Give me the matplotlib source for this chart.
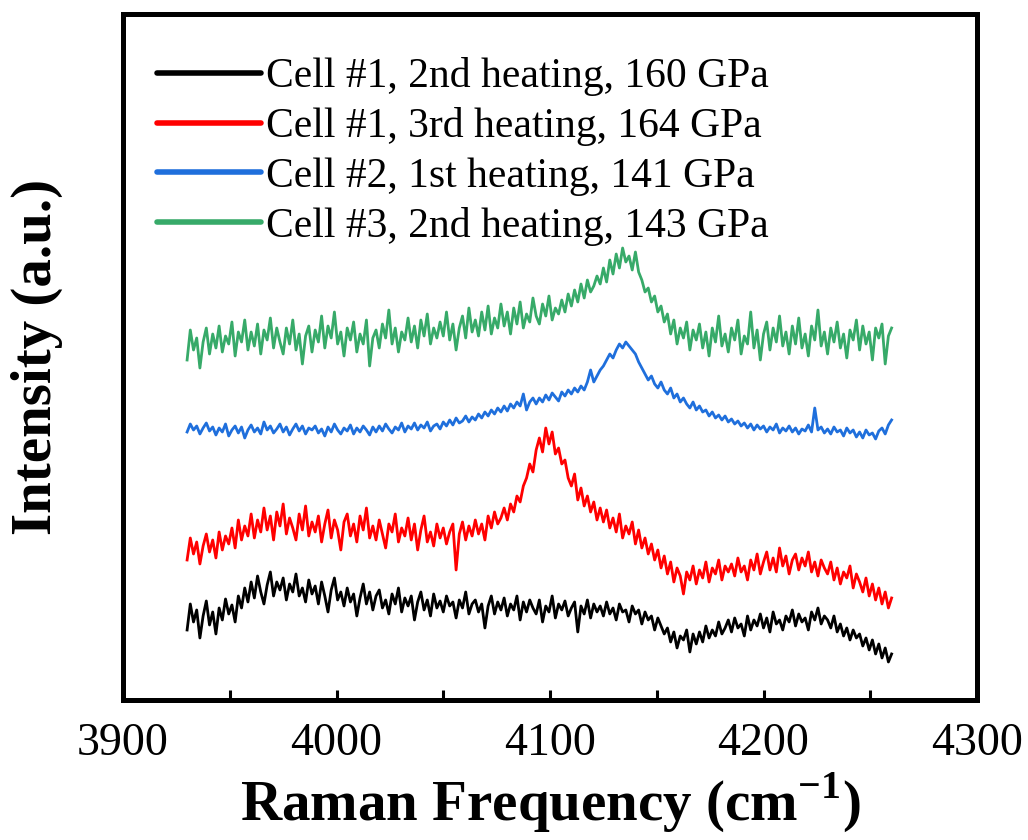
import numpy as np
import matplotlib
matplotlib.use("Agg")
import matplotlib.pyplot as plt
from matplotlib.lines import Line2D
from matplotlib.ticker import MultipleLocator

plt.rcParams['font.family'] = ['Liberation Serif', 'DejaVu Serif']
plt.rcParams['mathtext.fontset'] = 'custom'
plt.rcParams['mathtext.rm'] = 'Liberation Serif'
plt.rcParams['mathtext.bf'] = 'Liberation Serif:bold'

# Raman shift range of the spectra (cm^-1), one sample every 1.5 cm^-1
shift_start, shift_stop = 3930, 4260

# intensities (arbitrary units, traces already offset)
cell1_2nd = [70, 96, 78, 90, 62, 84, 99, 75, 88, 66,
             92, 80, 101, 86, 95, 78, 104, 92, 112, 98,
             118, 102, 124, 108, 96, 115, 128, 104, 118, 110,
             122, 100, 116, 108, 126, 104, 112, 98, 120, 106,
             114, 96, 118, 104, 88, 110, 122, 100, 108, 94,
             112, 98, 106, 84, 102, 116, 96, 108, 90, 104,
             110, 92, 100, 86, 106, 96, 112, 88, 102, 94,
             104, 80, 98, 108, 90, 100, 84, 106, 92, 99,
             88, 104, 94, 98, 82, 100, 92, 108, 86, 96,
             100, 88, 96, 72, 94, 104, 86, 98, 90, 102,
             84, 96, 90, 104, 80, 98, 88, 100, 92, 86,
             100, 78, 94, 88, 104, 82, 96, 90, 99, 84,
             92, 98, 68, 94, 86, 100, 82, 96, 88, 94,
             84, 98, 86, 92, 80, 96, 88, 90, 78, 94,
             86, 90, 76, 88, 80, 84, 70, 82, 74, 66,
             72, 58, 68, 52, 64, 60, 70, 48, 66, 56,
             68, 58, 74, 62, 70, 64, 78, 66, 72, 80,
             68, 82, 72, 76, 64, 84, 70, 80, 74, 86,
             72, 82, 68, 88, 76, 80, 70, 84, 78, 90,
             74, 86, 78, 82, 70, 88, 80, 92, 76, 84,
             80, 72, 84, 68, 76, 64, 72, 60, 70, 62,
             66, 54, 62, 50, 60, 46, 56, 42, 52, 38,
             46]

cell1_3rd = [140, 162, 146, 158, 136, 154, 166, 148, 160, 142,
             168, 150, 164, 156, 172, 152, 180, 160, 174, 164,
             186, 162, 180, 168, 192, 170, 184, 160, 188, 174,
             196, 166, 182, 172, 160, 186, 170, 194, 164, 178,
             168, 184, 158, 176, 190, 162, 180, 170, 150, 178,
             186, 164, 176, 158, 184, 170, 192, 162, 174, 160,
             180, 166, 152, 176, 168, 186, 158, 172, 164, 182,
             160, 176, 150, 170, 184, 158, 168, 154, 176, 162,
             172, 156, 168, 176, 130, 166, 178, 160, 174, 164,
             180, 166, 176, 160, 184, 172, 188, 176, 182, 192,
             180, 196, 188, 204, 198, 214, 222, 236, 228, 250,
             262, 248, 272, 256, 268, 246, 252, 236, 240, 222,
             214, 226, 200, 212, 194, 204, 188, 198, 180, 192,
             178, 190, 172, 182, 168, 186, 162, 174, 166, 178,
             156, 170, 152, 162, 146, 156, 140, 150, 132, 144,
             126, 138, 118, 132, 124, 106, 128, 120, 134, 116,
             130, 122, 138, 118, 132, 126, 140, 120, 134, 128,
             136, 124, 142, 128, 134, 120, 140, 130, 146, 126,
             138, 148, 130, 142, 128, 152, 134, 144, 126, 140,
             146, 130, 142, 134, 148, 128, 138, 124, 140, 132,
             126, 138, 120, 132, 116, 128, 122, 134, 112, 126,
             118, 108, 122, 104, 116, 100, 112, 96, 108, 92,
             102]

cell2_1st = [268, 276, 270, 274, 266, 272, 277, 269, 273, 265,
             272, 268, 276, 264, 270, 274, 267, 273, 262, 270,
             275, 268, 272, 266, 278, 270, 274, 267, 271, 276,
             268, 273, 265, 271, 276, 269, 274, 266, 272, 270,
             274, 267, 271, 264, 273, 268, 276, 270, 266, 272,
             269, 275, 266, 272, 268, 274, 270, 265, 273, 268,
             274, 269, 276, 271, 267, 273, 270, 277, 268, 274,
             271, 277, 270, 275, 272, 278, 269, 274, 276, 271,
             278, 274, 280, 275, 282, 277, 279, 284, 278, 283,
             280, 286, 282, 288, 284, 290, 286, 292, 288, 294,
             289, 296, 292, 298, 294, 306, 290, 298, 302, 296,
             302, 298, 305, 300, 307, 303, 299, 308, 304, 310,
             306, 312, 308, 314, 310, 318, 330, 318, 324, 330,
             334, 340, 346, 342, 350, 356, 352, 358, 354, 350,
             346, 338, 332, 326, 320, 324, 316, 312, 318, 310,
             306, 312, 302, 306, 298, 302, 296, 292, 298, 290,
             294, 288, 290, 284, 288, 282, 285, 280, 284, 278,
             281, 276, 279, 274, 277, 272, 276, 270, 275, 271,
             274, 268, 273, 270, 276, 267, 272, 269, 274, 268,
             272, 266, 271, 269, 275, 268, 292, 270, 273, 267,
             271, 266, 273, 268, 270, 264, 272, 267, 270, 263,
             268, 262, 270, 265, 267, 261, 269, 272, 266, 275,
             280]

cell3_2nd = [340, 370, 350, 362, 332, 358, 372, 346, 366, 352,
             374, 348, 364, 356, 378, 344, 368, 358, 380, 350,
             368, 354, 376, 346, 370, 360, 382, 352, 372, 358,
             346, 372, 356, 380, 350, 366, 336, 364, 374, 348,
             370, 358, 384, 352, 374, 362, 388, 356, 368, 344,
             372, 360, 378, 348, 366, 356, 380, 334, 362, 370,
             352, 376, 362, 390, 356, 372, 348, 368, 360, 382,
             358, 374, 352, 380, 364, 386, 356, 372, 362, 378,
             364, 388, 360, 376, 350, 372, 384, 362, 392, 368,
             380, 364, 388, 370, 394, 366, 382, 372, 396, 374,
             388, 366, 392, 376, 398, 372, 386, 378, 402, 384,
             376, 396, 384, 404, 380, 392, 386, 400, 388, 406,
             394, 410, 398, 416, 402, 420, 408, 414, 424, 416,
             432, 418, 440, 426, 446, 432, 452, 438, 444, 430,
             448, 428, 420, 408, 412, 398, 404, 388, 394, 378,
             386, 366, 380, 356, 372, 362, 378, 350, 370, 360,
             376, 352, 368, 344, 372, 358, 384, 354, 366, 348,
             372, 360, 380, 346, 364, 356, 388, 352, 370, 340,
             366, 378, 350, 372, 358, 384, 354, 368, 346, 374,
             356, 382, 352, 366, 344, 374, 360, 390, 354, 368,
             346, 372, 358, 378, 352, 366, 342, 370, 360, 380,
             350, 374, 356, 368, 340, 372, 362, 376, 336, 364,
             372]

labels = ['Cell #1, 2nd heating, 160 GPa',
          'Cell #1, 3rd heating, 164 GPa',
          'Cell #2, 1st heating, 141 GPa',
          'Cell #3, 2nd heating, 143 GPa']
colors = ['black', '#ff0000', '#1f6fdc', '#37aa69']
spectra = [cell1_2nd, cell1_3rd, cell2_1st, cell3_2nd]

fig = plt.figure(figsize=(10.28, 8.4), dpi=100)
ax = fig.add_axes([0.1197, 0.1667, 0.8307, 0.8166])

for y, c in zip(spectra, colors):
    x = np.linspace(shift_start, shift_stop, len(y))
    ax.plot(x, y, color=c, lw=2.0)

ax.set_xlim(3900, 4300)
ax.set_ylim(0, 686)
ax.xaxis.set_major_locator(MultipleLocator(100))
ax.xaxis.set_minor_locator(MultipleLocator(50))
ax.tick_params(axis='x', which='both', direction='in', length=7, width=2.2,
               labelsize=33, pad=16)
ax.set_yticks([])
for s in ax.spines.values():
    s.set_linewidth(3.6)

ax.set_xlabel('Raman Frequency (cm$^{\\mathbf{-1}}$)', fontsize=41, fontweight='bold', labelpad=4)
ax.set_ylabel('Intensity (a.u.)', fontsize=41, fontweight='bold')
ax.yaxis.set_label_coords(-0.07, 0.5)

handles = [Line2D([], [], color=c, lw=4, solid_capstyle='round') for c in colors]
ax.legend(handles, labels, loc='upper left', bbox_to_anchor=(0.04, 0.937),
          frameon=False, fontsize=30, handlelength=2.5, handletextpad=0.12,
          labelspacing=0.265, borderpad=0, borderaxespad=0)

fig.savefig('out.png', dpi=100)
